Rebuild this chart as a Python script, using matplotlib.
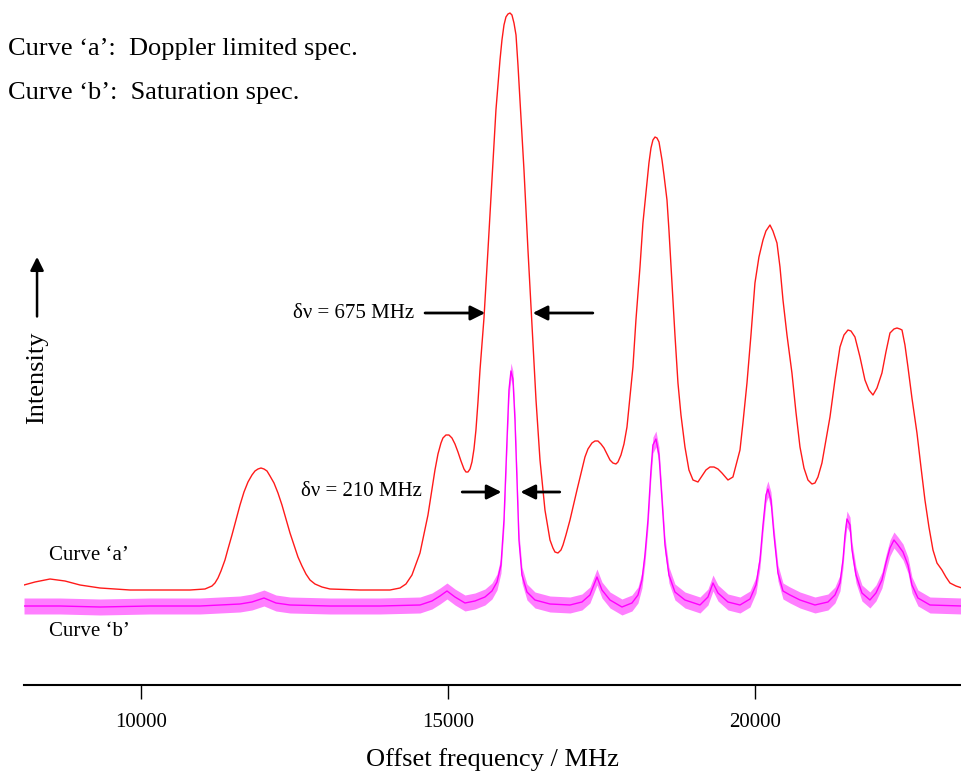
import matplotlib.pyplot as plt
import numpy as np

plt.rcParams['font.family'] = ['Liberation Serif', 'DejaVu Serif']

# curve 'a' : Doppler limited spectrum (offset frequency in MHz, intensity a.u.)
freq_a = [8085, 8264, 8509, 8753, 8998, 9324, 9813, 10302, 10791, 11035,
          11149, 11198, 11247, 11296, 11361, 11410, 11475, 11606, 11671, 11736,
          11801, 11850, 11899, 11948, 11997, 12046, 12095, 12160, 12225, 12290,
          12355, 12421, 12486, 12551, 12616, 12681, 12747, 12828, 12942, 13073,
          13562, 14051, 14214, 14311, 14409, 14540, 14670, 14784, 14833, 14882,
          14914, 14963, 15012, 15061, 15110, 15159, 15208, 15257, 15289, 15322,
          15355, 15387, 15420, 15452, 15485, 15518, 15583, 15648, 15713, 15778,
          15844, 15876, 15909, 15941, 15974, 16007, 16039, 16072, 16105, 16137,
          16170, 16235, 16300, 16365, 16431, 16496, 16577, 16659, 16707, 16740,
          16789, 16838, 16871, 16919, 16985, 17099, 17229, 17278, 17343, 17392,
          17441, 17490, 17539, 17588, 17637, 17685, 17734, 17767, 17816, 17865,
          17914, 18011, 18060, 18126, 18174, 18240, 18272, 18305, 18337, 18371,
          18403, 18436, 18485, 18517, 18566, 18598, 18648, 18696, 18745, 18794,
          18859, 18924, 18990, 19071, 19136, 19201, 19267, 19332, 19397, 19462,
          19560, 19641, 19756,
          19804, 19870, 19935, 20000, 20065, 20131, 20179, 20245, 20293, 20359,
          20408, 20457, 20522, 20603, 20668, 20734, 20799, 20864, 20929, 20978,
          21027, 21092, 21223, 21304, 21386, 21451, 21516, 21565, 21630, 21712,
          21793, 21858, 21924, 21989, 22070, 22135, 22201, 22266, 22315, 22364,
          22397, 22445, 22494, 22559, 22641, 22706, 22771, 22836, 22902, 22967,
          23048, 23113, 23179, 23276, 23374]
int_a = [100, 103, 106, 104, 100, 97, 95, 95, 95, 96,
         99, 102, 107, 114, 125, 136, 150, 180, 193, 203,
         210, 214, 216, 217, 216, 214, 209, 202, 192, 180,
         166, 152, 140, 128, 119, 111, 105, 101, 98, 96,
         95, 95, 97, 101, 110, 132, 170, 215, 231, 242,
         247, 250, 250, 247, 241, 233, 224, 216, 213, 213,
         216, 223, 236, 255, 283, 315, 367, 435, 505, 575,
         625, 645, 660, 668, 671, 672, 670, 662, 650, 620,
         585, 515, 435, 360, 285, 225, 175, 145, 137, 133,
         132, 135, 140, 150, 165, 195, 228, 236, 242, 244,
         244, 241, 237, 231, 225, 222, 221, 223, 230, 241,
         258, 318, 365, 418, 462, 502, 522, 537, 545, 548,
         547, 543, 525, 510, 485, 455, 402, 350, 302, 270,
         238, 215, 205, 203, 209, 215, 218, 218, 216, 212,
         205, 208, 235,
         262, 302, 350, 402, 428, 445, 454, 460, 454, 442,
         418, 385, 350, 312, 273, 238, 217, 205, 201, 202,
         208, 222, 268, 305, 338, 350, 355, 354, 348, 328,
         305, 295, 290, 297, 312, 333, 352, 356, 357, 356,
         355, 340, 318, 287, 252, 218, 185, 158, 135, 122,
         115, 108, 102, 99, 97]

# curve 'b' : saturation spectrum
freq_b = [8085, 8672, 9324, 10139, 10954, 11606, 11801, 11997, 12192, 12421,
          13073, 13888, 14540, 14735, 14866, 14980, 15110, 15273, 15436, 15599,
          15713, 15795, 15860, 15909, 15958, 15990, 16023, 16055, 16088, 16121,
          16153, 16202, 16284, 16414, 16659, 16985, 17180, 17310, 17425, 17506,
          17637, 17832, 17995, 18093, 18158, 18207, 18256, 18305, 18337, 18386,
          18436, 18485, 18533, 18598, 18696, 18859, 19104, 19234, 19316, 19397,
          19560, 19756, 19919, 20017, 20082, 20131, 20180, 20212, 20261, 20310,
          20375, 20457, 20571, 20734, 20978, 21190, 21304, 21386, 21435, 21468,
          21500, 21549, 21582, 21647, 21744, 21874, 21972, 22070, 22135, 22201,
          22266, 22331, 22413, 22494, 22559, 22657, 22853, 23374]
int_b = [79, 79, 78, 79, 79, 81, 83, 87, 82, 80,
         79, 79, 80, 84, 89, 94, 88, 82, 84, 88,
         94, 103, 120, 165, 245, 295, 314, 306, 265, 205,
         145, 110, 93, 85, 81, 80, 83, 90, 108, 95,
         85, 78, 82, 90, 105, 130, 165, 215, 240, 246,
         230, 185, 140, 110, 93, 85, 80, 88, 102, 92,
         83, 80, 86, 100, 125, 160, 190, 196, 185, 150,
         112, 94, 90, 85, 80, 83, 90, 102, 125, 150,
         166, 160, 135, 110, 92, 85, 92, 105, 122, 137,
         145, 140, 133, 120, 100, 87, 80, 79]
noise_b = 8

xticks = [10000, 15000, 20000]

# quoted linewidths (MHz), peak centre, arrow length, label height, label gap
widths = [675, 210]
centres = [15990, 16023]
tails = [980, 640]
label_y = [372, 193]
label_gap = [180, 650]

fig = plt.figure(figsize=(9.62, 7.71), dpi=100)
ax = fig.add_axes([24 / 962, 86 / 771, 938 / 962, 685 / 771])

fb = np.array(freq_b)
ib = np.array(int_b)
ax.fill_between(fb, ib - noise_b, ib + noise_b, color='#ff00ff', alpha=0.5, lw=0)
ax.plot(fb, ib, color='#ff00ff', lw=1.0)
ax.plot(freq_a, int_a, color='#ff1a1a', lw=1.0)

ax.set_xlim(8085, 23375)
ax.set_ylim(0, 685)
for s in ['top', 'right', 'left']:
    ax.spines[s].set_visible(False)
ax.spines['bottom'].set_linewidth(1.5)
ax.set_yticks([])
ax.set_xticks(xticks)
ax.set_xticklabels([str(t) for t in xticks], fontsize=15)
ax.tick_params(axis='x', direction='out', length=10, width=1, pad=10)
ax.set_xlabel('Offset frequency / MHz', fontsize=19, labelpad=12)

arrow = dict(arrowstyle='-|>', color='black', lw=2, mutation_scale=22,
             shrinkA=0, shrinkB=0)

# linewidth markers
for w, c, tail, ytxt, g in zip(widths, centres, tails, label_y, label_gap):
    half = w / 2 + 50
    ax.annotate('', xy=(c - half, ytxt), xytext=(c - half - tail, ytxt), arrowprops=arrow)
    ax.annotate('', xy=(c + half, ytxt), xytext=(c + half + tail, ytxt), arrowprops=arrow)
    ax.text(c - half - tail - g, ytxt, 'δν = %d MHz' % w, fontsize=15,
            ha='right', va='center')

ax.text(8492, 130, 'Curve ‘a’', fontsize=15, va='center')
ax.text(8492, 53, 'Curve ‘b’', fontsize=15, va='center')

# intensity axis arrow
ax.annotate('', xy=(0.0139, 0.625), xytext=(0.0139, 0.538), xycoords='axes fraction',
            arrowprops=dict(arrowstyle='-|>', color='black', lw=1.8, mutation_scale=20,
                            shrinkA=0, shrinkB=0))
ax.text(0.0139, 0.448, 'Intensity', rotation=90, fontsize=19, ha='center', va='center',
        transform=ax.transAxes)

fig.text(8 / 962, 1 - 49 / 771, 'Curve ‘a’:  Doppler limited spec.', fontsize=19, va='center')
fig.text(8 / 962, 1 - 93 / 771, 'Curve ‘b’:  Saturation spec.', fontsize=19, va='center')

fig.savefig('out.png', dpi=100)
